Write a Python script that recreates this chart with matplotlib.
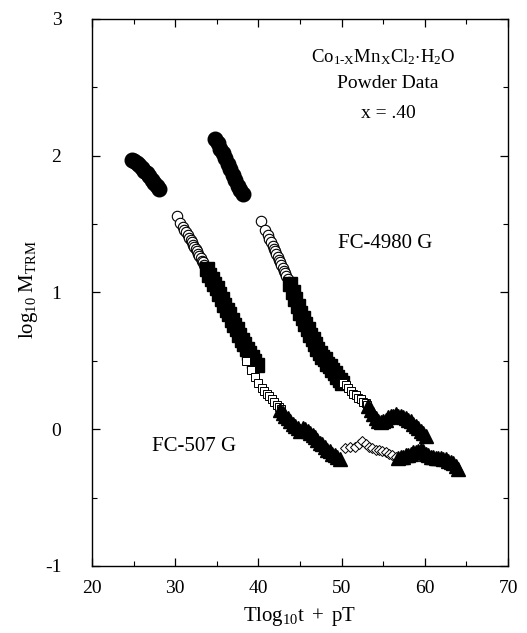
import numpy as np
import matplotlib
matplotlib.use("Agg")
import matplotlib.pyplot as plt
from matplotlib.ticker import MultipleLocator

# -----------------------------
# data
# -----------------------------

# FC-507 G
c507_x = [24.8, 25.1, 25.4, 25.7, 26.0, 26.3, 26.6, 26.9, 27.2, 27.5, 27.8, 28.1]
c507_y = [1.97, 1.96, 1.95, 1.93, 1.91, 1.89, 1.87, 1.85, 1.82, 1.80, 1.78, 1.76]

oc507_x = [30.2, 30.6, 30.9, 31.1, 31.3, 31.5, 31.7, 31.85, 32.0, 32.15, 32.3, 32.45,
           32.6, 32.75, 32.9, 33.05, 33.2, 33.35, 33.5, 33.65, 33.8]
oc507_y = [1.56, 1.51, 1.48, 1.46, 1.44, 1.42, 1.40, 1.38, 1.37, 1.35, 1.33, 1.32,
           1.30, 1.28, 1.27, 1.25, 1.23, 1.22, 1.20, 1.18, 1.16]

sq507_x = [33.8, 34.1, 34.4, 34.7, 35.0, 35.3, 35.6, 35.9, 36.2, 36.5, 36.8, 37.1,
           37.4, 37.7, 38.0, 38.3, 38.6, 38.9, 39.2, 39.5, 39.8]
sq507_y = [1.17, 1.13, 1.10, 1.06, 1.03, 0.99, 0.95, 0.91, 0.87, 0.84, 0.80, 0.76,
           0.73, 0.69, 0.65, 0.62, 0.59, 0.56, 0.53, 0.50, 0.47]

osq507_x = [38.5, 39.1, 39.6, 40.0, 40.4, 40.7, 41.0, 41.3, 41.6, 41.9, 42.2, 42.5, 42.7]
osq507_y = [0.50, 0.43, 0.38, 0.34, 0.30, 0.28, 0.26, 0.24, 0.22, 0.20, 0.18, 0.16, 0.15]

tr507_x = [42.6, 42.9, 43.2, 43.5, 43.8, 44.1, 44.4, 44.7, 45.0, 45.3, 45.6, 45.9,
           46.2, 46.5, 46.8, 47.1, 47.4, 47.7, 48.0, 48.3, 48.6, 48.9, 49.2, 49.5, 49.8]
tr507_y = [0.14, 0.12, 0.10, 0.08, 0.06, 0.04, 0.02, 0.01, -0.01, 0.01, 0.00, -0.01,
           -0.03, -0.04, -0.06, -0.08, -0.10, -0.11, -0.13, -0.15, -0.16, -0.18, -0.19, -0.20, -0.22]

di507_x = [50.4, 51.0, 51.6, 52.1, 52.5, 52.9, 53.3, 53.7, 54.1, 54.5, 54.9, 55.3, 55.7, 56.1, 56.5]
di507_y = [-0.14, -0.13, -0.13, -0.11, -0.09, -0.11, -0.13, -0.14, -0.15, -0.15, -0.16, -0.17, -0.18, -0.19, -0.20]

tl507_x = [56.8, 57.1, 57.4, 57.7, 58.0, 58.3, 58.6, 58.9, 59.2, 59.5, 59.8, 60.1,
           60.4, 60.7, 61.0, 61.3, 61.6, 61.9, 62.2, 62.5, 62.8, 63.1, 63.4, 63.7, 64.0]
tl507_y = [-0.21, -0.20, -0.20, -0.19, -0.19, -0.18, -0.17, -0.17, -0.16, -0.15, -0.16, -0.18,
           -0.19, -0.20, -0.20, -0.21, -0.21, -0.21, -0.22, -0.22, -0.23, -0.24, -0.25, -0.27, -0.29]

# FC-4980 G
c4980_x = [34.8, 35.1, 35.4, 35.7, 36.0, 36.3, 36.6, 36.9, 37.2, 37.5, 37.8, 38.1]
c4980_y = [2.12, 2.09, 2.05, 2.02, 1.98, 1.94, 1.90, 1.86, 1.82, 1.78, 1.75, 1.72]

oc4980_x = [40.3, 40.8, 41.1, 41.3, 41.5, 41.7, 41.85, 42.0, 42.15, 42.3, 42.45, 42.6,
            42.75, 42.9, 43.05, 43.2, 43.35, 43.5, 43.65]
oc4980_y = [1.52, 1.46, 1.42, 1.39, 1.37, 1.34, 1.32, 1.30, 1.28, 1.26, 1.24, 1.22,
            1.20, 1.18, 1.16, 1.14, 1.12, 1.10, 1.08]

sq4980_x = [43.8, 44.1, 44.4, 44.7, 45.0, 45.3, 45.6, 45.9, 46.2, 46.5, 46.8, 47.1,
            47.4, 47.7, 48.0, 48.3, 48.6, 48.9, 49.2, 49.5, 49.8, 50.1]
sq4980_y = [1.06, 1.00, 0.95, 0.90, 0.85, 0.81, 0.77, 0.73, 0.69, 0.66, 0.62, 0.59,
            0.56, 0.53, 0.51, 0.48, 0.46, 0.43, 0.41, 0.38, 0.36, 0.34]

osq4980_x = [50.2, 50.5, 50.8, 51.1, 51.4, 51.7, 52.0, 52.3, 52.6, 52.9, 53.1]
osq4980_y = [0.34, 0.32, 0.30, 0.28, 0.26, 0.25, 0.23, 0.22, 0.20, 0.19, 0.18]

tr4980_x = [53.2, 53.5, 53.8, 54.1, 54.4, 54.7, 55.0, 55.3, 55.6, 55.9, 56.2, 56.5,
            56.8, 57.1, 57.4, 57.7, 58.0, 58.3, 58.6, 58.9, 59.2, 59.5, 59.8, 60.1]
tr4980_y = [0.17, 0.14, 0.11, 0.08, 0.06, 0.05, 0.06, 0.07, 0.09, 0.10, 0.10, 0.11,
            0.10, 0.10, 0.09, 0.08, 0.07, 0.06, 0.04, 0.02, 0.01, -0.01, -0.03, -0.05]

# -----------------------------
# style
# -----------------------------

plt.rcParams['font.family'] = ['Liberation Serif', 'DejaVu Serif']
plt.rcParams['mathtext.fontset'] = 'custom'
plt.rcParams['mathtext.rm'] = 'Liberation Serif'
plt.rcParams['mathtext.it'] = 'Liberation Serif:italic'
plt.rcParams['axes.unicode_minus'] = False

fig = plt.figure(figsize=(5.27, 6.33), dpi=100)
ax = fig.add_axes([0.1746, 0.106, 0.7894, 0.864])

filled_circle = dict(marker='o', ls='none', color='black', ms=10.5)
open_circle = dict(marker='o', ls='none', mfc='white', mec='black', mew=0.8, ms=7.5)
filled_square = dict(marker='s', ls='none', color='black', ms=10)
open_square = dict(marker='s', ls='none', mfc='white', mec='black', mew=0.7, ms=6)
open_diamond = dict(marker='D', ls='none', mfc='white', mec='black', mew=0.7, ms=5.5)
filled_tri = dict(marker='^', ls='none', color='black', ms=10)

ax.plot(c507_x, c507_y, **filled_circle)
ax.plot(oc507_x, oc507_y, **open_circle)
ax.plot(sq507_x, sq507_y, **filled_square)
ax.plot(osq507_x, osq507_y, **open_square)
ax.plot(tr507_x, tr507_y, **filled_tri)
ax.plot(di507_x, di507_y, **open_diamond)
ax.plot(tl507_x, tl507_y, **filled_tri)

ax.plot(c4980_x, c4980_y, **filled_circle)
ax.plot(oc4980_x, oc4980_y, **open_circle)
ax.plot(sq4980_x, sq4980_y, **filled_square)
ax.plot(osq4980_x, osq4980_y, **open_square)
ax.plot(tr4980_x, tr4980_y, **filled_tri)

ax.set_xlim(20, 70)
ax.set_ylim(-1, 3)
ax.xaxis.set_major_locator(MultipleLocator(10))
ax.xaxis.set_minor_locator(MultipleLocator(5))
ax.yaxis.set_major_locator(MultipleLocator(1))
ax.yaxis.set_minor_locator(MultipleLocator(0.5))
ax.tick_params(which='both', direction='in', top=True, right=True, labelsize=14)
ax.tick_params(which='major', length=6, width=0.9)
ax.tick_params(which='minor', length=3.5, width=0.8)
ax.tick_params(axis='x', pad=10)
ax.tick_params(axis='y', pad=22)
for s in ax.spines.values():
    s.set_linewidth(1.0)

ax.set_xlabel(r'$\mathrm{Tlog_{10}t\ +\ pT}$', fontsize=15)
ax.set_ylabel(r'$\mathrm{log_{10}\ M_{TRM}}$', fontsize=15)
ax.xaxis.set_label_coords(0.5, -0.072)
ax.yaxis.set_label_coords(-0.125, 0.505)

ax.text(32.3, -0.13, 'FC-507 G', fontsize=15, ha='center', va='center')
ax.text(55.2, 1.36, 'FC-4980 G', fontsize=15, ha='center', va='center')

ax.text(55.0, 2.72, r'$\mathrm{Co_{1\text{-}X}Mn_XCl_2{\cdot}H_2O}$', fontsize=13.5, ha='center', va='center')
ax.text(55.6, 2.53, 'Powder Data', fontsize=14, ha='center', va='center')
ax.text(55.6, 2.31, 'x = .40', fontsize=14, ha='center', va='center')

fig.savefig('out.png', dpi=100)
